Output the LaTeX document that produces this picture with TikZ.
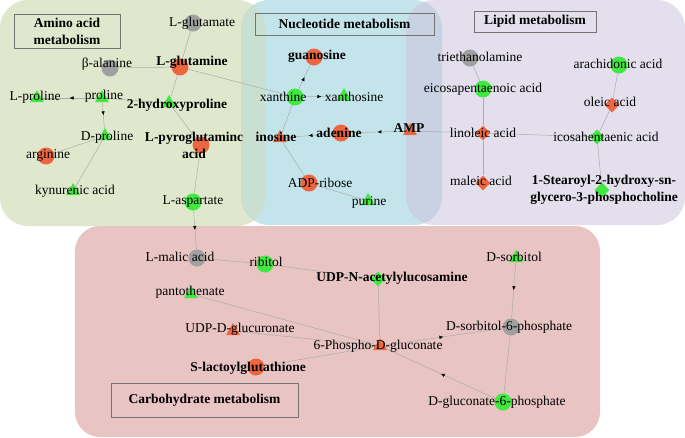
\documentclass[tikz,border=0pt]{standalone}
\usepackage{fontspec}
\setmainfont{Liberation Serif}
\usetikzlibrary{shapes.geometric,arrows.meta,decorations.markings}
\definecolor{verdefondo}{RGB}{223,232,205}
\definecolor{azulfondo}{RGB}{196,228,236}
\definecolor{lilafondo}{RGB}{227,223,236}
\definecolor{rosafondo}{RGB}{232,196,194}
\definecolor{verdeazul}{RGB}{201,224,208}
\definecolor{azullila}{RGB}{201,210,226}
\definecolor{naranja}{RGB}{238,102,64}
\definecolor{verde}{RGB}{64,232,64}
\definecolor{gris}{RGB}{160,160,160}
\definecolor{grisarista}{RGB}{172,172,172}
\pgfdeclarelayer{fondo}
\pgfdeclarelayer{aristas}
\pgfsetlayers{fondo,aristas,main}
\begin{document}
\begin{tikzpicture}[x=1pt, y=-1pt,
    txt/.style={font=\fontsize{13.5}{17}\selectfont, inner sep=0pt, align=center},
    txtb/.style={font=\fontsize{13.5}{17}\selectfont\bfseries, inner sep=0pt, align=center},
    circ/.style={circle, fill=#1, minimum size=17pt, inner sep=0pt},
    tri/.style={regular polygon, regular polygon sides=3, fill=#1, minimum size=16pt, inner sep=0pt},
    rombo/.style={diamond, fill=#1, minimum size=15pt, inner sep=0pt},
    titulo/.style={draw=black!55, line width=0.6pt, font=\fontsize{13.5}{17}\selectfont\bfseries, align=center, inner sep=0pt},
    linea/.style={draw=grisarista, line width=0.5pt},
    flecha/.style={linea, postaction={decorate},
        decoration={markings, mark=at position 0.5 with {\arrow[black]{Latex[length=4pt,width=3.5pt]}}}}]
    \useasboundingbox (0,0) rectangle (685,437);

    % Dibuja las regiones
    \begin{pgfonlayer}{fondo}
    \fill[verdefondo, rounded corners=28pt] (0,0) rectangle (265,226);
    \fill[azulfondo, rounded corners=28pt] (241,0) rectangle (442,225);
    \fill[lilafondo, rounded corners=28pt] (406,0) rectangle (685,225);
    \begin{scope}
        \clip[rounded corners=28pt] (0,0) rectangle (265,226);
        \fill[verdeazul, rounded corners=28pt] (241,0) rectangle (442,225);
    \end{scope}
    \begin{scope}
        \clip[rounded corners=28pt] (406,0) rectangle (685,225);
        \fill[azullila, rounded corners=28pt] (241,0) rectangle (442,225);
    \end{scope}
    \fill[rosafondo, rounded corners=25pt] (75,226) rectangle (600,437);
    \end{pgfonlayer}

    % Dibuja los titulos
    \node[titulo, minimum width=106pt, minimum height=34pt] (tAmino) at (67,31) {Amino acid\\metabolism};
    \node[titulo, minimum width=179pt, minimum height=22pt] (tNucleo) at (344.5,24) {Nucleotide metabolism};
    \node[titulo, minimum width=122pt, minimum height=21pt] (tLipido) at (535,21.5) {Lipid metabolism};
    \node[titulo, minimum width=187pt, minimum height=34pt] (tCarbo) at (204.5,400) {Carbohydrate metabolism};

    % Dibuja los marcadores
    \foreach \n/\px/\py in {gln/180/67, arg/46/156, pyr/201/145, guo/314/57, ade/341/133, adpr/309/183, slg/256/367}
        \node[circ=naranja] (\n) at (\px,\py) {};
    \foreach \n/\px/\py in {asp/193/202, xan/295/97, epa/483/89, ara/619/65, rib/265/264, g6p/503/402}
        \node[circ=verde] (\n) at (\px,\py) {};
    \foreach \n/\px/\py in {glu/193/23, bal/110/68, tea/470/58, lma/197/258, s6p/511/327}
        \node[circ=gris] (\n) at (\px,\py) {};
    \foreach \n/\px/\py in {lpro/37/98, pro/102/98, hyp/169/103, dpro/105/136, kyn/73/191, xao/344/96, pur/368/201, pan/191/294, sor/516/258}
        \node[tri=verde] (\n) at (\px,\py) {};
    \foreach \n/\px/\py in {ino/280/138, amp/410/131, udpg/233/331, pgl/380/346}
        \node[tri=naranja] (\n) at (\px,\py) {};
    \foreach \n/\px/\py in {lin/483/133, mal/483/183, ole/612/105}
        \node[rombo=naranja] (\n) at (\px,\py) {};
    \foreach \n/\px/\py in {ico/597/137, spc/602/190, udpn/378/279}
        \node[rombo=verde] (\n) at (\px,\py) {};

    % Dibuja los nombres
    \foreach \n/\px/\py/\t in {glu/202/23/L-glutamate, bal/107/64/β-alanine, lpro/35/97/L-proline,
        pro/104/96/proline, dpro/107/137/D-proline, arg/48/155/arginine, kyn/75/191/kynurenic acid,
        asp/193/202/L-aspartate, xan/283/97/xanthine, xao/354/97/xanthosine, adpr/320/183/ADP-ribose,
        pur/369/202/purine, tea/480/57/triethanolamine, epa/483/89/eicosapentaenoic acid,
        lin/483/133/linoleic acid, mal/481/181/maleic acid, ara/618/64/arachidonic acid,
        ole/610/102/oleic acid, ico/606/137/icosahentaenic acid, lma/180/257/L-malic acid,
        rib/266/262/ribitol, pan/190/292/pantothenate, udpg/240/329/UDP-D-glucuronate,
        pgl/378/346/6-Phospho-D-gluconate, sor/514/257/D-sorbitol, s6p/509/327/D-sorbitol-6-phosphate,
        g6p/497/402/D-gluconate-6-phosphate}
        \node[txt] (\n-l) at (\px,\py) {\t};
    \foreach \n/\px/\py/\t in {gln/192/62/L-glutamine, hyp/177/105/2-hydroxyproline,
        pyr/194/145.5/{L-pyroglutaminc\\acid}, guo/317/56/guanosine, ino/276/137/inosine,
        ade/339/133/adenine, amp/409/128/AMP, spc/604/190/{1-Stearoyl-2-hydroxy-sn-\\glycero-3-phosphocholine},
        udpn/392/278/UDP-N-acetylylucosamine, slg/248/368/S-lactoylglutathione}
        \node[txtb] (\n-l) at (\px,\py) {\t};

    % Dibuja las aristas
    \begin{pgfonlayer}{aristas}
    \foreach \a/\b in {glu/gln, bal/gln, gln/xan, gln/hyp, pro/hyp, dpro/arg, dpro/kyn, hyp/pyr,
        pyr/asp, xan/ino, ino/adpr, adpr/pur, amp/lin, tea/epa, epa/lin, lin/mal, lin/ico,
        ara/ole, ole/ico, ico/spc, lma/rib, rib/udpn, udpn/pgl, pan/pgl, udpg/pgl, slg/pgl, s6p/g6p}
        \draw[linea] (\a) -- (\b);
    \foreach \a/\b in {pro/lpro, pro/dpro, asp/lma, xan/guo, xan/xao, ade/ino, amp/ade,
        pgl/s6p, g6p/pgl, sor/s6p}
        \draw[flecha] (\a) -- (\b);
    \end{pgfonlayer}
\end{tikzpicture}
\end{document}
